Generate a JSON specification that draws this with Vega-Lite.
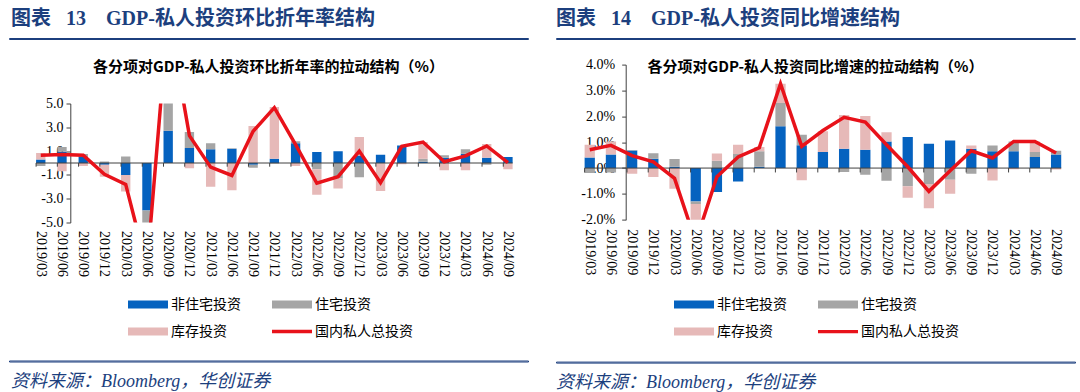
{
  "$schema": "https://vega.github.io/schema/vega-lite/v6.json",
  "background": "white",
  "padding": {"left": 8, "top": 8, "right": 0, "bottom": 0},
  "config": {"view": {"stroke": null}, "axis": {"labelOverlap": false}},
  "datasets": {
    "L": [
      {"q":"2019/03","非住宅投资":0.3,"住宅投资":-0.25,"库存投资":0.55,"国内私人总投资":0.65},
      {"q":"2019/06","非住宅投资":0.95,"住宅投资":0.4,"库存投资":-0.7,"国内私人总投资":0.72},
      {"q":"2019/09","非住宅投资":0.5,"住宅投资":0.25,"库存投资":-0.25,"国内私人总投资":0.66},
      {"q":"2019/12","非住宅投资":-0.15,"住宅投资":0.12,"库存投资":-1.0,"国内私人总投资":-0.95},
      {"q":"2020/03","非住宅投资":-1.0,"住宅投资":0.55,"库存投资":-1.4,"国内私人总投资":-1.8},
      {"q":"2020/06","非住宅投资":-4.0,"住宅投资":-1.2,"库存投资":-3.6,"国内私人总投资":-8.8},
      {"q":"2020/09","非住宅投资":2.7,"住宅投资":2.4,"库存投资":7.4,"国内私人总投资":12.5},
      {"q":"2020/12","非住宅投资":1.26,"住宅投资":1.35,"库存投资":-0.45,"国内私人总投资":2.3},
      {"q":"2021/03","非住宅投资":1.15,"住宅投资":0.5,"库存投资":-2.0,"国内私人总投资":-0.35},
      {"q":"2021/06","非住宅投资":1.2,"住宅投资":0.05,"库存投资":-2.3,"国内私人总投资":-1.05},
      {"q":"2021/09","非住宅投资":-0.15,"住宅投资":-0.25,"库存投资":3.1,"国内私人总投资":2.66},
      {"q":"2021/12","非住宅投资":0.36,"住宅投资":-0.05,"库存投资":4.35,"国内私人总投资":4.65},
      {"q":"2022/03","非住宅投资":1.67,"住宅投资":0.15,"库存投资":-0.25,"国内私人总投资":1.55},
      {"q":"2022/06","非住宅投资":0.92,"住宅投资":-0.53,"库存投资":-2.13,"国内私人总投资":-1.7},
      {"q":"2022/09","非住宅投资":0.98,"住宅投资":-1.3,"库存投资":-0.85,"国内私人总投资":-1.15},
      {"q":"2022/12","非住宅投资":0.64,"住宅投资":-1.2,"库存投资":1.55,"国内私人总投资":1.0},
      {"q":"2023/03","非住宅投资":0.7,"住宅投资":-0.05,"库存投资":-2.3,"国内私人总投资":-1.65},
      {"q":"2023/06","非住宅投资":1.48,"住宅投资":0.0,"库存投资":-0.1,"国内私人总投资":1.4},
      {"q":"2023/09","非住宅投资":0.1,"住宅投资":0.26,"库存投资":1.4,"国内私人总投资":1.76},
      {"q":"2023/12","非住宅投资":0.45,"住宅投资":0.2,"库存投资":-0.6,"国内私人总投资":0.1},
      {"q":"2024/03","非住宅投资":0.78,"住宅投资":0.37,"库存投资":-0.6,"国内私人总投资":0.6},
      {"q":"2024/06","非住宅投资":0.45,"住宅投资":-0.14,"库存投资":1.15,"国内私人总投资":1.43},
      {"q":"2024/09","非住宅投资":0.5,"住宅投资":-0.05,"库存投资":-0.48,"国内私人总投资":0.03}
    ],
    "R": [
      {"q":"2019/03","非住宅投资":0.41,"住宅投资":-0.19,"库存投资":0.49,"国内私人总投资":0.71},
      {"q":"2019/06","非住宅投资":0.52,"住宅投资":-0.17,"库存投资":0.51,"国内私人总投资":0.88},
      {"q":"2019/09","非住宅投资":0.68,"住宅投资":0.02,"库存投资":-0.22,"国内私人总投资":0.48},
      {"q":"2019/12","非住宅投资":0.36,"住宅投资":0.21,"库存投资":-0.35,"国内私人总投资":0.24},
      {"q":"2020/03","非住宅投资":0.05,"住宅投资":0.3,"库存投资":-0.8,"国内私人总投资":-0.4},
      {"q":"2020/06","非住宅投资":-1.29,"住宅投资":-0.1,"库存投资":-1.46,"国内私人总投资":-2.85},
      {"q":"2020/09","非住宅投资":-0.93,"住宅投资":0.28,"库存投资":0.28,"国内私人总投资":-0.33},
      {"q":"2020/12","非住宅投资":-0.52,"住宅投资":0.54,"库存投资":0.36,"国内私人总投资":0.43},
      {"q":"2021/03","非住宅投资":0.05,"住宅投资":0.6,"库存投资":0.16,"国内私人总投资":0.79},
      {"q":"2021/06","非住宅投资":1.62,"住宅投资":0.9,"库存投资":0.74,"国内私人总投资":3.26},
      {"q":"2021/09","非住宅投资":0.88,"住宅投资":0.41,"库存投资":-0.47,"国内私人总投资":0.84},
      {"q":"2021/12","非住宅投资":0.62,"住宅投资":0.0,"库存投资":0.8,"国内私人总投资":1.45},
      {"q":"2022/03","非住宅投资":0.75,"住宅投资":-0.15,"库存投资":1.3,"国内私人总投资":1.96},
      {"q":"2022/06","非住宅投资":0.71,"住宅投资":-0.26,"库存投资":1.3,"国内私人总投资":1.78},
      {"q":"2022/09","非住宅投资":1.03,"住宅投资":-0.49,"库存投资":0.35,"国内私人总投资":0.9},
      {"q":"2022/12","非住宅投资":1.2,"住宅投资":-0.7,"库存投资":-0.45,"国内私人总投资":0.05},
      {"q":"2023/03","非住宅投资":0.94,"住宅投资":-0.62,"库存投资":-0.93,"国内私人总投资":-0.9},
      {"q":"2023/06","非住宅投资":1.07,"住宅投资":-0.45,"库存投资":-0.54,"国内私人总投资":-0.1},
      {"q":"2023/09","非住宅投资":0.75,"住宅投资":-0.22,"库存投资":0.12,"国内私人总投资":0.67},
      {"q":"2023/12","非住宅投资":0.65,"住宅投资":0.22,"库存投资":-0.48,"国内私人总投资":0.39},
      {"q":"2024/03","非住宅投资":0.65,"住宅投资":0.38,"库存投资":-0.05,"国内私人总投资":1.03},
      {"q":"2024/06","非住宅投资":0.43,"住宅投资":0.19,"库存投资":0.41,"国内私人总投资":1.03},
      {"q":"2024/09","非住宅投资":0.52,"住宅投资":0.15,"库存投资":-0.06,"国内私人总投资":0.58}
    ]
  },
  "spacing": 26,
  "resolve": {"scale": {"color": "independent"}, "legend": {"color": "independent"}},
  "hconcat": [
    {
      "spacing": 15.5,
      "resolve": {"scale": {"color": "independent"}, "legend": {"color": "independent"}},
      "vconcat": [
        {
          "width": 519, "height": 1,
          "view": {"stroke": "#1C3F7E", "strokeWidth": 1},
          "data": {"values": [{"z": 0}]},
          "mark": {"type": "text", "text": ""},
          "encoding": {},
          "title": {"text": "图表\u2002 13\u2003GDP-私人投资环比折年率结构", "anchor": "start", "dx": 2, "offset": 4, "font": "Liberation Serif, Noto Sans CJK SC", "fontSize": 20, "fontWeight": "bold", "color": "#1C3F7E"}
        },
        {
          "spacing": 16,
          "resolve": {"scale": {"color": "independent"}, "legend": {"color": "independent"}},
          "vconcat": [
            {
              "width": 519, "height": 119,
              "data": {"name": "L"},
              "title": {"text": "各分项对GDP-私人投资环比折年率的拉动结构（%）", "anchor": "middle", "offset": 22, "font": "Noto Sans CJK SC", "fontSize": 15, "fontWeight": "bold", "color": "#000000"},
              "encoding": {
                "x": {"field": "q", "type": "nominal",
                  "scale": {"type": "band", "domain": ["2019/03","2019/06","2019/09","2019/12","2020/03","2020/06","2020/09","2020/12","2021/03","2021/06","2021/09","2021/12","2022/03","2022/06","2022/09","2022/12","2023/03","2023/06","2023/09","2023/12","2024/03","2024/06","2024/09"], "paddingInner": 0.56, "paddingOuter": 2.54, "align": 0.638},
                  "axis": {"orient": "bottom", "title": null, "domain": false, "ticks": false, "labelAngle": 90, "labelAlign": "left", "labelBaseline": "middle", "labelPadding": 8, "labelOverlap": false, "labelFont": "Liberation Serif", "labelFontSize": 14, "labelColor": "#000000"}}
              },
              "layer": [
                {
                  "transform": [
                    {"fold": ["非住宅投资", "住宅投资", "库存投资"], "as": ["s", "v"]},
                    {"calculate": "indexof(['非住宅投资','住宅投资','库存投资'], datum.s)", "as": "o"}
                  ],
                  "mark": {"type": "bar", "clip": true},
                  "encoding": {
                    "y": {"field": "v", "type": "quantitative", "stack": "zero",
                      "scale": {"domain": [-5, 5], "nice": false, "zero": false},
                      "axis": {"title": null, "grid": false, "offset": -61.3, "values": [-5, -3, -1, 1, 3, 5], "tickCount": 20, "labelOverlap": false, "labelFlush": false, "labelExpr": "datum.value < 0 ? '-' + format(-datum.value, '.1f') : format(datum.value, '.1f')", "domainColor": "#404040", "tickColor": "#404040", "tickSize": 4.3, "labelPadding": 3, "labelFont": "Liberation Serif", "labelFontSize": 14, "labelColor": "#000000"}},
                    "color": {"field": "s", "type": "nominal",
                      "scale": {"domain": ["非住宅投资", "住宅投资", "库存投资", "国内私人总投资"], "range": ["#0562BF", "#A5A5A5", "#E6B9B8", "#E8121A"]},
                      "legend": {"orient": "none", "legendX": 119, "legendY": 194, "direction": "horizontal", "title": null, "columns": 2, "columnPadding": 31, "rowPadding": 13,
                        "symbolType": "M-4,-0.8H4V0.8H-4Z", "symbolSize": 100, "symbolOffset": 13, "labelOffset": 16, "symbolStrokeWidth": 0, "symbolOpacity": 1,
                        "labelFont": "Noto Sans CJK SC", "labelFontSize": 14, "labelColor": "#000000",
                        "encode": {"symbols": {"update": {"shape": {"signal": "datum.label === '国内私人总投资' ? 'M-4,-0.33H4V0.33H-4Z' : 'M-4,-0.8H4V0.8H-4Z'"}}}}}},
                    "order": {"field": "o", "type": "quantitative"}
                  }
                },
                {
                  "data": {"values": [{"z": 0}]},
                  "mark": {"type": "rule", "color": "#404040", "strokeWidth": 1},
                  "encoding": {
                    "x": {"datum": "2019/03", "bandPosition": 0},
                    "x2": {"datum": "2024/09", "bandPosition": 1},
                    "y": {"datum": 0}
                  }
                },
                {
                  "mark": {"type": "rule", "color": "#404040", "strokeWidth": 1},
                  "encoding": {
                    "x": {"field": "q", "type": "nominal", "bandPosition": 0},
                    "y": {"datum": 0},
                    "y2": {"datum": -0.31}
                  }
                },
                {
                  "mark": {"type": "line", "color": "#E8121A", "strokeWidth": 3.5, "clip": true},
                  "encoding": {
                    "y": {"field": "国内私人总投资", "type": "quantitative"}
                  }
                }
              ]
            },
            {
              "width": 519, "height": 1,
              "view": {"stroke": "#1C3F7E", "strokeWidth": 1},
              "data": {"values": [{"z": 0}]},
              "mark": {"type": "text", "text": ""},
              "encoding": {},
              "title": {"text": "资料来源：Bloomberg，华创证券", "orient": "bottom", "anchor": "start", "dx": 2, "offset": 7, "font": "Liberation Serif, Noto Sans CJK SC", "fontSize": 18, "fontStyle": "italic", "fontWeight": "normal", "color": "#1C3F7E"}
            }
          ]
        }
      ]
    },
    {
      "spacing": 13.6,
      "resolve": {"scale": {"color": "independent"}, "legend": {"color": "independent"}},
      "vconcat": [
        {
          "width": 519, "height": 1,
          "view": {"stroke": "#1C3F7E", "strokeWidth": 1},
          "data": {"values": [{"z": 0}]},
          "mark": {"type": "text", "text": ""},
          "encoding": {},
          "title": {"text": "图表\u2002 14\u2003GDP-私人投资同比增速结构", "anchor": "start", "dx": 0, "offset": 4, "font": "Liberation Serif, Noto Sans CJK SC", "fontSize": 20, "fontWeight": "bold", "color": "#1C3F7E"}
        },
        {
          "spacing": 17,
          "resolve": {"scale": {"color": "independent"}, "legend": {"color": "independent"}},
          "vconcat": [
            {
              "width": 519, "height": 155.2,
              "data": {"name": "R"},
              "title": {"text": "各分项对GDP-私人投资同比增速的拉动结构（%）", "anchor": "middle", "offset": -16.9, "font": "Noto Sans CJK SC", "fontSize": 15, "fontWeight": "bold", "color": "#000000"},
              "encoding": {
                "x": {"field": "q", "type": "nominal",
                  "scale": {"type": "band", "domain": ["2019/03","2019/06","2019/09","2019/12","2020/03","2020/06","2020/09","2020/12","2021/03","2021/06","2021/09","2021/12","2022/03","2022/06","2022/09","2022/12","2023/03","2023/06","2023/09","2023/12","2024/03","2024/06","2024/09"], "paddingInner": 0.516, "paddingOuter": 2.69, "align": 0.675},
                  "axis": {"orient": "bottom", "title": null, "domain": false, "ticks": false, "labelAngle": 90, "labelAlign": "left", "labelBaseline": "middle", "labelPadding": 9, "labelOverlap": false, "labelFont": "Liberation Serif", "labelFontSize": 14, "labelColor": "#000000"}}
              },
              "layer": [
                {
                  "transform": [
                    {"fold": ["非住宅投资", "住宅投资", "库存投资"], "as": ["s", "v"]},
                    {"calculate": "indexof(['非住宅投资','住宅投资','库存投资'], datum.s)", "as": "o"}
                  ],
                  "mark": {"type": "bar", "clip": true},
                  "encoding": {
                    "y": {"field": "v", "type": "quantitative", "stack": "zero",
                      "scale": {"domain": [-2, 4], "nice": false, "zero": false},
                      "axis": {"title": null, "grid": false, "offset": -69.7, "values": [-2, -1, 0, 1, 2, 3, 4], "tickCount": 20, "labelOverlap": false, "labelFlush": false, "labelExpr": "datum.value < 0 ? '-' + format(-datum.value, '.1f') + '%' : format(datum.value, '.1f') + '%'", "domainColor": "#404040", "tickColor": "#404040", "tickSize": 4, "labelPadding": 7, "labelFont": "Liberation Serif", "labelFontSize": 14, "labelColor": "#000000"}},
                    "color": {"field": "s", "type": "nominal",
                      "scale": {"domain": ["非住宅投资", "住宅投资", "库存投资", "国内私人总投资"], "range": ["#0562BF", "#A5A5A5", "#E6B9B8", "#E8121A"]},
                      "legend": {"orient": "none", "legendX": 118, "legendY": 233, "direction": "horizontal", "title": null, "columns": 2, "columnPadding": 31, "rowPadding": 13,
                        "symbolType": "M-4,-0.8H4V0.8H-4Z", "symbolSize": 100, "symbolOffset": 13, "labelOffset": 16, "symbolStrokeWidth": 0, "symbolOpacity": 1,
                        "labelFont": "Noto Sans CJK SC", "labelFontSize": 14, "labelColor": "#000000",
                        "encode": {"symbols": {"update": {"shape": {"signal": "datum.label === '国内私人总投资' ? 'M-4,-0.33H4V0.33H-4Z' : 'M-4,-0.8H4V0.8H-4Z'"}}}}}},
                    "order": {"field": "o", "type": "quantitative"}
                  }
                },
                {
                  "data": {"values": [{"z": 0}]},
                  "mark": {"type": "rule", "color": "#404040", "strokeWidth": 1},
                  "encoding": {
                    "x": {"datum": "2019/03", "bandPosition": 0},
                    "x2": {"datum": "2024/09", "bandPosition": 1},
                    "y": {"datum": 0}
                  }
                },
                {
                  "mark": {"type": "rule", "color": "#404040", "strokeWidth": 1},
                  "encoding": {
                    "x": {"field": "q", "type": "nominal", "bandPosition": 0},
                    "y": {"datum": 0},
                    "y2": {"datum": -0.17}
                  }
                },
                {
                  "mark": {"type": "line", "color": "#E8121A", "strokeWidth": 3.5, "clip": true},
                  "encoding": {
                    "y": {"field": "国内私人总投资", "type": "quantitative"}
                  }
                }
              ]
            },
            {
              "width": 519, "height": 1,
              "view": {"stroke": "#1C3F7E", "strokeWidth": 1},
              "data": {"values": [{"z": 0}]},
              "mark": {"type": "text", "text": ""},
              "encoding": {},
              "title": {"text": "资料来源：Bloomberg，华创证券", "orient": "bottom", "anchor": "start", "dx": 0, "offset": 7, "font": "Liberation Serif, Noto Sans CJK SC", "fontSize": 18, "fontStyle": "italic", "fontWeight": "normal", "color": "#1C3F7E"}
            }
          ]
        }
      ]
    }
  ]
}
